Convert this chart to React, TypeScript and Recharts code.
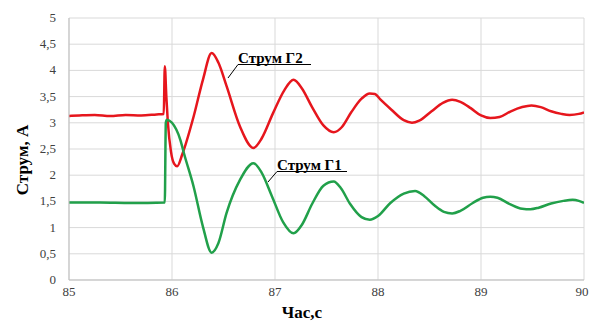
import React from 'react';
import { LineChart, Line, XAxis, YAxis, CartesianGrid } from 'recharts';

const xTicks = [85, 86, 87, 88, 89, 90];
const yTicks = [0, 0.5, 1, 1.5, 2, 2.5, 3, 3.5, 4, 4.5, 5];

const g2Time = [85.0, 85.1, 85.25, 85.4, 85.55, 85.7, 85.85, 85.92, 85.93, 85.945, 85.96, 85.99, 86.02, 86.05, 86.1, 86.21, 86.3, 86.385, 86.45, 86.53, 86.66, 86.79, 86.87, 86.98, 87.09, 87.18, 87.26, 87.36, 87.47, 87.57, 87.65, 87.74, 87.84, 87.92, 87.97, 88.02, 88.13, 88.25, 88.33, 88.4, 88.52, 88.63, 88.72, 88.8, 88.9, 89.0, 89.09, 89.18, 89.29, 89.4, 89.49, 89.58, 89.68, 89.78, 89.86, 89.95, 90.0];
const g2Values = [3.13, 3.14, 3.15, 3.13, 3.15, 3.14, 3.16, 3.17, 4.08, 3.5, 3.0, 2.45, 2.22, 2.17, 2.4, 3.12, 3.82, 4.33, 4.15, 3.7, 2.93, 2.52, 2.7, 3.18, 3.62, 3.82, 3.66, 3.3, 2.95, 2.82, 2.92, 3.2, 3.46, 3.56, 3.55, 3.45, 3.25, 3.05, 3.0, 3.04, 3.22, 3.38, 3.44, 3.4, 3.28, 3.14, 3.09, 3.11, 3.22, 3.3, 3.33, 3.3, 3.22, 3.17, 3.15, 3.17, 3.2];

const g1Time = [85.0, 85.3, 85.6, 85.93, 85.94, 85.95, 86.0, 86.08, 86.12, 86.21, 86.3, 86.385, 86.45, 86.53, 86.66, 86.79, 86.87, 86.97, 87.08, 87.18, 87.26, 87.36, 87.47, 87.57, 87.64, 87.73, 87.84, 87.92, 88.0, 88.12, 88.25, 88.36, 88.45, 88.55, 88.64, 88.72, 88.8, 88.92, 89.02, 89.09, 89.16, 89.28, 89.4, 89.48, 89.56, 89.68, 89.8, 89.89, 89.95, 90.0];
const g1Values = [1.48, 1.48, 1.47, 1.48, 3.0, 3.06, 3.0, 2.68, 2.39, 1.78, 1.02, 0.52, 0.7, 1.28, 1.91, 2.23, 2.05, 1.6, 1.1, 0.89, 1.05, 1.45, 1.8, 1.88, 1.75, 1.45, 1.2, 1.15, 1.22, 1.47, 1.65, 1.7, 1.6, 1.42, 1.3, 1.27, 1.32, 1.47, 1.57, 1.59, 1.57, 1.45, 1.36, 1.35, 1.38, 1.46, 1.51, 1.53, 1.51, 1.47];

const g2Data = g2Time.map((t, i) => ({ t, v: g2Values[i] }));
const g1Data = g1Time.map((t, i) => ({ t, v: g1Values[i] }));

const SERIF = '"Liberation Serif", "Times New Roman", serif';

const XTick = (props: any) => {
  const { x, y, payload } = props;
  return (
    <text x={x} y={y + 10} textAnchor="middle" fontFamily={SERIF} fontSize={13} fill="#404040">
      {String(payload.value)}
    </text>
  );
};

const YTick = (props: any) => {
  const { x, y, payload } = props;
  return (
    <text x={x} y={y + 4} textAnchor="end" fontFamily={SERIF} fontSize={13} fill="#404040">
      {String(payload.value).replace('.', ',')}
    </text>
  );
};

export default function App() {
  return (
    <div style={{ position: 'absolute', left: 0, top: 0, width: 590, height: 322, background: '#fff' }}>
      <LineChart width={590} height={322} margin={{ top: 18, right: 6, bottom: 12, left: 0 }}>
        <CartesianGrid stroke="#d9d9d9" strokeWidth={1} horizontal vertical />
        <XAxis
          dataKey="t"
          type="number"
          domain={[85, 90]}
          ticks={xTicks}
          allowDataOverflow
          height={30}
          tickLine={false}
          tickSize={3}
          tickMargin={3}
          axisLine={{ stroke: '#bfbfbf' }}
          tick={XTick}
        />
        <YAxis
          type="number"
          domain={[0, 5]}
          ticks={yTicks}
          width={69}
          tickLine={false}
          tickSize={5}
          tickMargin={8}
          axisLine={{ stroke: '#bfbfbf' }}
          tick={YTick}
        />
        <Line data={g2Data} dataKey="v" type="monotone" stroke="#e6161d" strokeWidth={2.5} dot={false} isAnimationActive={false} />
        <Line data={g1Data} dataKey="v" type="monotone" stroke="#21a04a" strokeWidth={2.5} dot={false} isAnimationActive={false} />
        <text x={22} y={160} transform="rotate(-90 22 160)" textAnchor="middle" dominantBaseline="central" fontFamily={SERIF} fontWeight="bold" fontSize={17} fill="#000">Струм, А</text>
        <text x={302} y={312} textAnchor="middle" dominantBaseline="central" fontFamily={SERIF} fontWeight="bold" fontSize={17} fill="#000">Час,с</text>
        <text x={238} y={63} fontFamily={SERIF} fontWeight="bold" fontSize={15} fill="#000">Струм Г2</text>
        <line x1={238} y1={64.5} x2={311} y2={64.5} stroke="#000" strokeWidth={1} />
        <line x1={238} y1={64.5} x2={228} y2={78} stroke="#000" strokeWidth={1} />
        <text x={277} y={170} fontFamily={SERIF} fontWeight="bold" fontSize={15} fill="#000">Струм Г1</text>
        <line x1={277} y1={171.5} x2={347} y2={171.5} stroke="#000" strokeWidth={1} />
        <line x1={277} y1={171.5} x2={268} y2={182} stroke="#000" strokeWidth={1} />
      </LineChart>
    </div>
  );
}
